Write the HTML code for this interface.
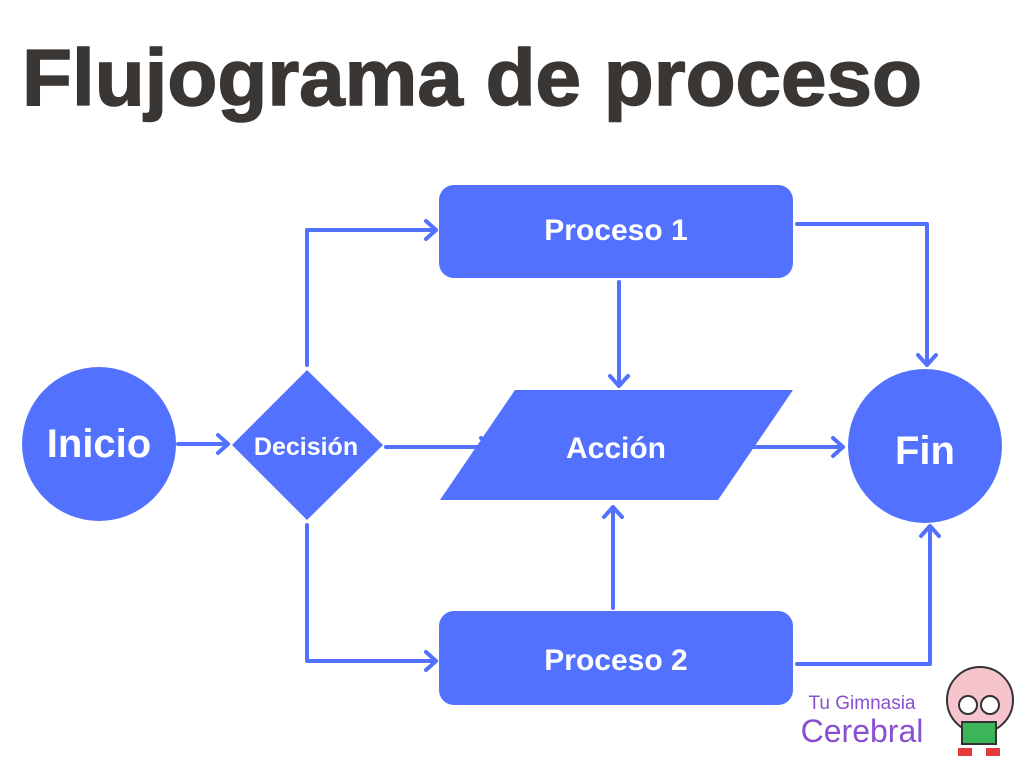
<!DOCTYPE html>
<html><head><meta charset="utf-8"><style>
body{margin:0;background:#fff;width:1024px;height:768px;overflow:hidden}
</style></head><body>
<svg width="1024" height="768" viewBox="0 0 1024 768" xmlns="http://www.w3.org/2000/svg" font-family="Liberation Sans, sans-serif">
<rect width="1024" height="768" fill="#fff"/>
<text x="22" y="105" font-size="80" font-weight="bold" fill="#393634" stroke="#393634" stroke-width="1.5" textLength="900" lengthAdjust="spacingAndGlyphs">Flujograma de proceso</text>
<g fill="#5271FF">
<circle cx="99" cy="444" r="77"/>
<circle cx="925" cy="446" r="77"/>
<polygon points="307,370 383,445 307,520 232,445"/>
<rect x="439" y="185" width="354" height="93" rx="15"/>
<rect x="439" y="611" width="354" height="94" rx="15"/>
<polygon points="515,390 793,390 718,500 440,500"/>
</g>
<g stroke="#5271FF" stroke-width="4" fill="none" stroke-linecap="round" stroke-linejoin="round">
<path d="M178 444H228M218 435L228 444L218 453"/>
<path d="M386 447H491M481 438L491 447L481 456"/>
<path d="M740 447H843M833 438L843 447L833 456"/>
<path d="M307 365V230H436M426 221L436 230L426 239"/>
<path d="M307 525V661H436M426 652L436 661L426 670"/>
<path d="M619 282V386M610 376L619 386L628 376"/>
<path d="M613 608V507M604 517L613 507L622 517"/>
<path d="M797 224H927V365M918 355L927 365L936 355"/>
<path d="M797 664H930V526M921 536L930 526L939 536"/>
</g>
<g fill="#fff" font-weight="bold" text-anchor="middle">
<text x="99" y="457" font-size="40">Inicio</text>
<text x="925" y="464" font-size="40">Fin</text>
<text x="306" y="455" font-size="25">Decisión</text>
<text x="616" y="240" font-size="30">Proceso 1</text>
<text x="616" y="670" font-size="30">Proceso 2</text>
<text x="616" y="458" font-size="30">Acción</text>
</g>
<text x="862" y="709" font-size="19" fill="#8a4fd0" text-anchor="middle">Tu Gimnasia</text>
<text x="862" y="742" font-size="32" fill="#8a4fd0" text-anchor="middle">Cerebral</text>
<g>
<circle cx="980" cy="700" r="33" fill="#f6c4cc" stroke="#333" stroke-width="2"/>
<circle cx="968" cy="705" r="9" fill="#fff" stroke="#333" stroke-width="2"/>
<circle cx="990" cy="705" r="9" fill="#fff" stroke="#333" stroke-width="2"/>
<rect x="962" y="722" width="34" height="22" fill="#3cb55a" stroke="#333" stroke-width="2"/>
<rect x="958" y="748" width="14" height="8" fill="#e23a3a"/>
<rect x="986" y="748" width="14" height="8" fill="#e23a3a"/>
</g>
</svg>
</body></html>
